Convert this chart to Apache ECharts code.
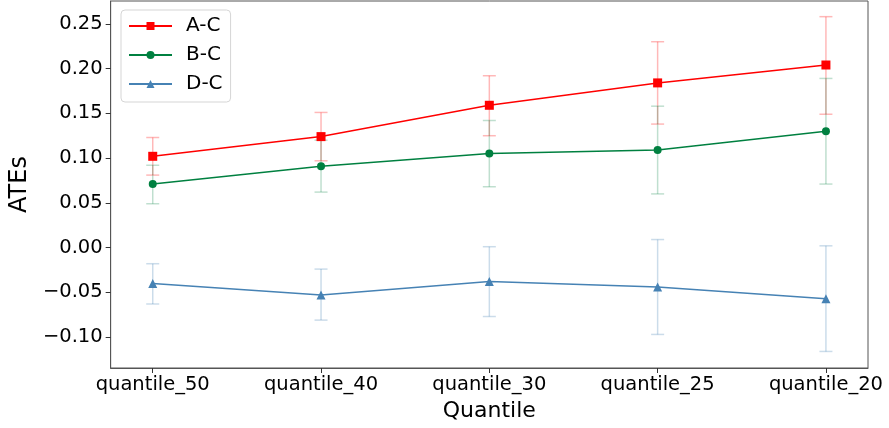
<!DOCTYPE html>
<html>
<head>
<meta charset="utf-8">
<script src="https://cdn.jsdelivr.net/npm/echarts@6/dist/echarts.min.js"></script>
<style>
html,body{margin:0;padding:0;background:#fff;}
#chart{width:889px;height:428px;}
</style>
</head>
<body>
<div id="chart"></div>
<script>
// ---- data ----
const categories = ['quantile_50', 'quantile_40', 'quantile_30', 'quantile_25', 'quantile_20'];
const seriesNames = ['A-C', 'B-C', 'D-C'];
const acValues = [0.102, 0.124, 0.159, 0.184, 0.204];
const acLower  = [0.081, 0.097, 0.125, 0.138, 0.149];
const acUpper  = [0.123, 0.151, 0.192, 0.230, 0.258];
const bcValues = [0.071, 0.091, 0.105, 0.109, 0.130];
const bcLower  = [0.049, 0.062, 0.068, 0.060, 0.071];
const bcUpper  = [0.092, 0.120, 0.142, 0.158, 0.189];
const dcValues = [-0.040, -0.053, -0.038, -0.044, -0.057];
const dcLower  = [-0.063, -0.081, -0.077, -0.097, -0.116];
const dcUpper  = [-0.018, -0.024, 0.001, 0.009, 0.002];
const yTicks = [-0.10, -0.05, 0.00, 0.05, 0.10, 0.15, 0.20, 0.25];

const colors = ['#ff0000', '#008040', '#4682b4'];
const barColors = ['rgba(255,0,0,0.28)', 'rgba(0,128,64,0.25)', 'rgba(70,130,180,0.28)'];
const symbols = ['rect', 'circle', 'triangle'];
const symbolSizes = [9, 8, 9];

const chart = echarts.init(document.getElementById('chart'));
const xIdx = categories.map((c, i) => i);

function errSeries(k, lo, hi) {
  return {
    type: 'custom',
    name: seriesNames[k] + '_err',
    z: 1,
    silent: true,
    data: xIdx.map(i => [i, lo[i], hi[i]]),
    encode: { x: 0, y: [1, 2] },
    renderItem: function (params, api) {
      const x = api.value(0);
      const p1 = api.coord([x, api.value(1)]);
      const p2 = api.coord([x, api.value(2)]);
      const hw = 6.5;
      const style = { stroke: barColors[k], lineWidth: 1.5, fill: null };
      return {
        type: 'group',
        children: [
          { type: 'line', shape: { x1: p1[0], y1: p1[1], x2: p2[0], y2: p2[1] }, style: style },
          { type: 'line', shape: { x1: p1[0] - hw, y1: p1[1], x2: p1[0] + hw, y2: p1[1] }, style: style },
          { type: 'line', shape: { x1: p2[0] - hw, y1: p2[1], x2: p2[0] + hw, y2: p2[1] }, style: style }
        ]
      };
    }
  };
}

function lineSeries(k, vals) {
  return {
    type: 'line',
    name: seriesNames[k],
    z: 3,
    data: xIdx.map(i => [i, vals[i]]),
    symbol: symbols[k],
    symbolSize: symbolSizes[k],
    showAllSymbol: true,
    itemStyle: { color: colors[k], borderWidth: 0 },
    lineStyle: { color: colors[k], width: 1.5 },
    emphasis: { disabled: true },
    animation: false
  };
}

const fmtNum = v => v.toFixed(2).replace('-', '\u2212');

chart.setOption({
  animation: false,
  textStyle: { fontFamily: 'DejaVu Sans' },
  grid: { left: 110, right: 21, top: 1, bottom: 60, show: true, borderColor: '#555', borderWidth: 1, backgroundColor: 'transparent' },
  legend: {
    orient: 'vertical',
    left: 121,
    top: 10,
    data: seriesNames,
    itemWidth: 43,
    itemHeight: 10,
    itemGap: 9,
    padding: [6, 8, 8, 7],
    borderColor: '#d5d5d5',
    borderWidth: 1,
    borderRadius: 4,
    backgroundColor: 'rgba(255,255,255,0.8)',
    textStyle: { fontSize: 20, lineHeight: 20, color: '#000', fontFamily: 'DejaVu Sans', padding: [0, 0, 0, 9] }
  },
  xAxis: {
    type: 'value',
    min: -0.25,
    max: 4.25,
    name: 'Quantile',
    nameLocation: 'middle',
    nameGap: 29,
    nameTextStyle: { fontSize: 22, color: '#000', fontFamily: 'DejaVu Sans' },
    splitLine: { show: false },
    axisLine: { show: true, onZero: false, lineStyle: { color: '#555', width: 1 } },
    axisTick: { show: true, length: 5, lineStyle: { color: '#333' }, customValues: xIdx },
    axisLabel: {
      fontSize: 19.5, color: '#000', margin: 7,
      customValues: xIdx,
      formatter: v => categories[Math.round(v)]
    }
  },
  yAxis: {
    type: 'value',
    min: -0.1345,
    max: 0.2755,
    name: 'ATEs',
    nameLocation: 'middle',
    nameGap: 73,
    nameRotate: 90,
    nameTextStyle: { fontSize: 24, color: '#000', fontFamily: 'DejaVu Sans' },
    splitLine: { show: false },
    axisLine: { show: true, onZero: false, lineStyle: { color: '#555', width: 1 } },
    axisTick: { show: true, length: 5, lineStyle: { color: '#333' }, customValues: yTicks },
    axisLabel: { fontSize: 19.5, color: '#000', margin: 8, customValues: yTicks, formatter: fmtNum }
  },
  series: [
    errSeries(0, acLower, acUpper),
    errSeries(1, bcLower, bcUpper),
    errSeries(2, dcLower, dcUpper),
    lineSeries(0, acValues),
    lineSeries(1, bcValues),
    lineSeries(2, dcValues)
  ]
});
</script>
</body>
</html>
